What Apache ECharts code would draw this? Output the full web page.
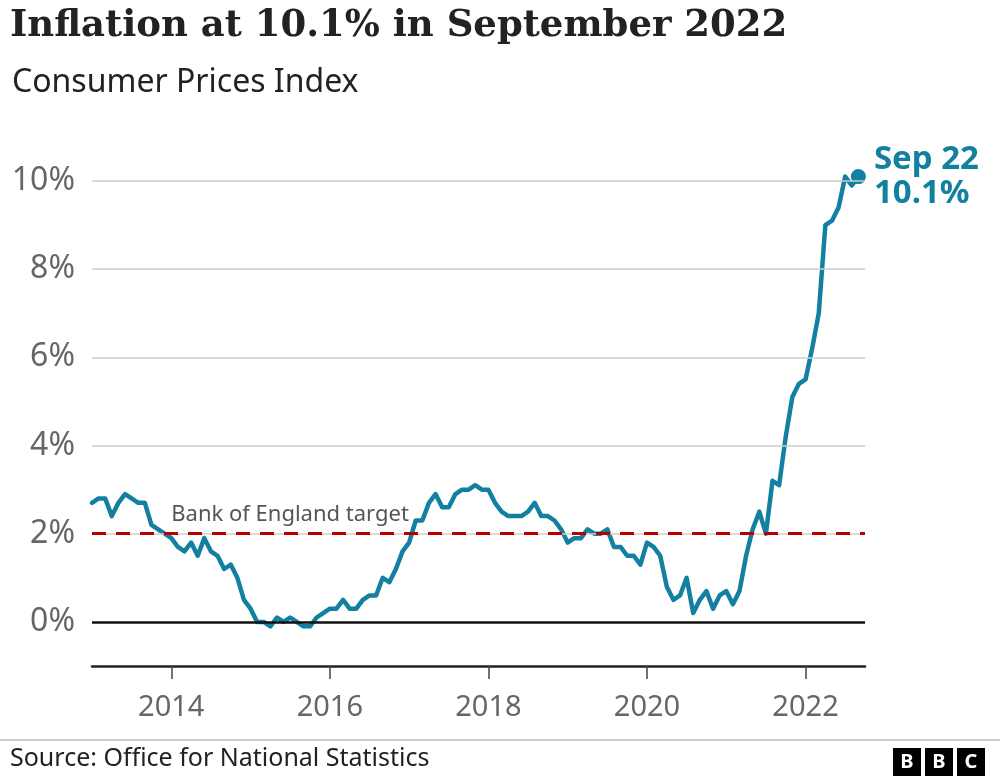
<!DOCTYPE html>
<html><head><meta charset="utf-8">
<script src="https://cdn.jsdelivr.net/npm/echarts@6/dist/echarts.min.js"></script>
<style>html,body{margin:0;padding:0;background:#fff}#c{width:1000px;height:780px}</style>
</head><body><div id="c"></div>
<script>
// UK CPI annual rate (%), monthly, Jan 2013 - Sep 2022
const startYear = 2013;
const cpi2013 = [2.7,2.8,2.8,2.4,2.7,2.9,2.8,2.7,2.7,2.2,2.1,2.0];
const cpi2014 = [1.9,1.7,1.6,1.8,1.5,1.9,1.6,1.5,1.2,1.3,1.0,0.5];
const cpi2015 = [0.3,0.0,0.0,-0.1,0.1,0.0,0.1,0.0,-0.1,-0.1,0.1,0.2];
const cpi2016 = [0.3,0.3,0.5,0.3,0.3,0.5,0.6,0.6,1.0,0.9,1.2,1.6];
const cpi2017 = [1.8,2.3,2.3,2.7,2.9,2.6,2.6,2.9,3.0,3.0,3.1,3.0];
const cpi2018 = [3.0,2.7,2.5,2.4,2.4,2.4,2.5,2.7,2.4,2.4,2.3,2.1];
const cpi2019 = [1.8,1.9,1.9,2.1,2.0,2.0,2.1,1.7,1.7,1.5,1.5,1.3];
const cpi2020 = [1.8,1.7,1.5,0.8,0.5,0.6,1.0,0.2,0.5,0.7,0.3,0.6];
const cpi2021 = [0.7,0.4,0.7,1.5,2.1,2.5,2.0,3.2,3.1,4.2,5.1,5.4];
const cpi2022 = [5.5,6.2,7.0,9.0,9.1,9.4,10.1,9.9,10.1];
const xTickLabels = ['2014','2016','2018','2020','2022'];
const yTickLabels = [0,2,4,6,8,10];
const gridLevels = [2,4,6,8,10];
const targetRate = 2;
const targetText = 'Bank of England target';
const lastLabel = 'Sep 22';

const values = [].concat(cpi2013,cpi2014,cpi2015,cpi2016,cpi2017,cpi2018,cpi2019,cpi2020,cpi2021,cpi2022);
const categories = [];
for (let i = 0; i < values.length + 1; i++) {
  const y = startYear + Math.floor(i / 12), m = i % 12 + 1;
  categories.push(y + '-' + String(m).padStart(2, '0'));
}
const lastIdx = values.length - 1;
const teal = '#1380a1';
const sans = '"Noto Sans", "Open Sans", sans-serif';
const isTick = (v) => v.endsWith('-01') && xTickLabels.includes(v.slice(0,4));

const chart = echarts.init(document.getElementById('c'), null, {renderer: 'canvas'});
chart.setOption({
  animation: false,
  backgroundColor: '#fff',
  title: [
    {text: 'Inflation at 10.1% in September 2022', left: 5, top: 3,
     textStyle: {fontFamily: '"DejaVu Serif", serif', fontWeight: 'bold', fontSize: 37, color: '#222'}},
    {text: 'Consumer Prices Index', left: 7, top: 62,
     textStyle: {fontFamily: sans, fontWeight: 'normal', fontSize: 32, color: '#222'}}
  ],
  grid: {left: 92, right: 135, top: 181, bottom: 114},
  xAxis: {
    type: 'category', data: categories, boundaryGap: false,
    axisLine: {onZero: false, lineStyle: {color: '#222', width: 2.5}},
    axisTick: {show: true, interval: (i, v) => isTick(v), length: 13, lineStyle: {color: '#444', width: 1.5}},
    axisLabel: {interval: (i, v) => isTick(v), formatter: (v) => v.slice(0,4),
      fontFamily: sans, fontSize: 29, color: '#666', margin: 27},
    splitLine: {show: false}
  },
  yAxis: {
    type: 'value', min: -1, max: 10, interval: 1,
    axisLine: {show: false}, axisTick: {show: false},
    splitLine: {show: false},
    axisLabel: {formatter: (v) => yTickLabels.includes(v) ? v + '%' : '',
      fontFamily: sans, fontSize: 32, color: '#666', margin: 17}
  },
  series: [
    {type: 'line', data: [], z: 1, silent: true,
     markLine: {silent: true, symbol: ['none','none'], label: {show: false}, animation: false,
       data: gridLevels.map(v => ({yAxis: v, lineStyle: {color: '#cccccc', width: 1.5, type: 'solid'}}))
         .concat([{yAxis: 0, lineStyle: {color: '#111', width: 2.5, type: 'solid'}}])}},
    {type: 'line', data: [], z: 2, silent: true,
     markLine: {silent: true, symbol: ['none','none'], label: {show: false}, animation: false,
       data: [{yAxis: targetRate, lineStyle: {color: '#b80000', width: 3, type: [14, 10]}}]},
     markPoint: {silent: true, symbolSize: 0, animation: false,
       data: [{coord: ['2014-01', targetRate], label: {show: true, formatter: targetText,
         position: [0, -8], align: 'left', verticalAlign: 'bottom',
         fontFamily: sans, fontSize: 22, color: '#555'}}]}},
    {type: 'line', data: values, z: 3, clip: false, symbol: 'none', silent: true,
     lineStyle: {color: teal, width: 4.5, join: 'round', cap: 'round'}},
    {type: 'scatter', z: 4, clip: false, silent: true, symbolSize: 15,
     itemStyle: {color: teal, opacity: 1},
     data: [[categories[lastIdx], values[lastIdx]]],
     label: {show: true, position: 'right', distance: 8,
       formatter: (p) => lastLabel + '\n' + p.value[1].toFixed(1) + '%',
       fontFamily: sans, fontWeight: 'bold', fontSize: 33, lineHeight: 34, color: teal}}
  ],
  graphic: [
    {type: 'line', shape: {x1: 0, y1: 740, x2: 1000, y2: 740}, style: {stroke: '#999', lineWidth: 1}},
    {type: 'text', left: 10, top: 746, style: {text: 'Source: Office for National Statistics', font: '25px "Noto Sans", sans-serif', fill: '#222'}},
    {type: 'group', left: 893, top: 748, children: [
      {type: 'rect', shape: {x: 0, y: 0, width: 28, height: 28}, style: {fill: '#000'}},
      {type: 'rect', shape: {x: 32, y: 0, width: 28, height: 28}, style: {fill: '#000'}},
      {type: 'rect', shape: {x: 64, y: 0, width: 28, height: 28}, style: {fill: '#000'}},
      {type: 'text', x: 14, y: 14, style: {text: 'B', font: 'bold 20px "Noto Sans", sans-serif', fill: '#fff', align: 'center', verticalAlign: 'middle'}},
      {type: 'text', x: 46, y: 14, style: {text: 'B', font: 'bold 20px "Noto Sans", sans-serif', fill: '#fff', align: 'center', verticalAlign: 'middle'}},
      {type: 'text', x: 78, y: 14, style: {text: 'C', font: 'bold 20px "Noto Sans", sans-serif', fill: '#fff', align: 'center', verticalAlign: 'middle'}}
    ]}
  ]
});
</script></body></html>
